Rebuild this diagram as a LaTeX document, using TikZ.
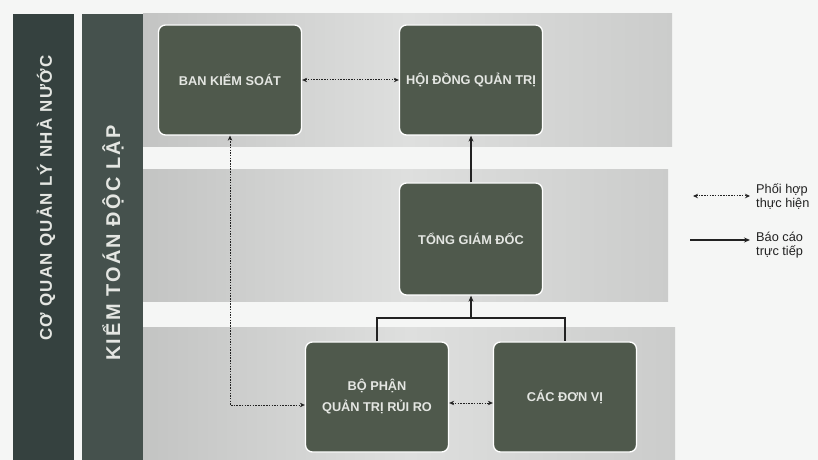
\documentclass[tikz,border=0pt]{standalone}
\usepackage{fontspec}
\setmainfont{Liberation Sans}
\newfontfamily\statefont[LetterSpace=8]{Liberation Sans}
\newfontfamily\auditfont[LetterSpace=11]{Liberation Sans}
\usetikzlibrary{arrows.meta}
\definecolor{Paper}{HTML}{F5F6F5}
\definecolor{Slate}{HTML}{35413F}
\definecolor{SlateLight}{HTML}{45514D}
\definecolor{BoxFill}{HTML}{4F594C}
\definecolor{BandDark}{HTML}{C3C4C3}
\definecolor{BandLight}{HTML}{DEDFDE}
\definecolor{Label}{HTML}{E4E6E2}
\definecolor{Ink}{HTML}{222222}
\tikzset{
  band/.style={left color=BandDark,right color=BandDark!70!BandLight,
    middle color=BandLight},
  orgbox/.style={draw=white,line width=1.3bp,fill=BoxFill,rounded corners=7bp,
    minimum width=143bp,minimum height=110bp,inner sep=0bp,align=center,
    text=Label,font=\bfseries\fontsize{12.8}{21}\selectfont},
  sidelabel/.style={rotate=90,text=Label,inner sep=0bp},
  legendtext/.style={anchor=west,align=left,inner sep=0bp,text=Ink,
    font=\fontsize{12.8}{14}\selectfont},
  coop/.style={draw=Ink,line width=1bp,dash pattern=on 1.5bp off 1.2bp,
    {Stealth[length=5bp,width=4.5bp]}-{Stealth[length=5bp,width=4.5bp]}},
  report/.style={draw=Ink,line width=1.4bp,-{Stealth[length=6bp,width=5bp]}},
  link/.style={draw=Ink,line width=1.4bp}
}

\begin{document}
\begin{tikzpicture}[x=1bp,y=-1bp]
  \path[use as bounding box] (0,0) rectangle (818,460);
  \fill[Paper] (0,0) rectangle (818,460);

  % oversight bars on the left
  \fill[Slate] (13,14) rectangle (74,460);
  \fill[SlateLight] (82,14) rectangle (143,460);
  \node[sidelabel,font=\statefont\bfseries\fontsize{17}{17}\selectfont]
    (state) at (46,198) {CƠ QUAN QUẢN LÝ NHÀ NƯỚC};
  \node[sidelabel,font=\auditfont\bfseries\fontsize{20}{20}\selectfont]
    (audit) at (113,243) {KIỂM TOÁN ĐỘC LẬP};

  % three levels
  \fill[band] (143,14) rectangle (672,147);
  \fill[band] (143,170) rectangle (668,302);
  \fill[band] (143,328) rectangle (675,460);

  \node[orgbox] (bks) at (230,80) {BAN KIỂM SOÁT};
  \node[orgbox] (hdqt) at (471,80) {HỘI ĐỒNG QUẢN TRỊ};
  \node[orgbox,minimum height=112bp] (tgd) at (471,239) {TỔNG GIÁM ĐỐC};
  \node[orgbox] (qtrr) at (377,397) {BỘ PHẬN\\QUẢN TRỊ RỦI RO};
  \node[orgbox] (dv) at (565,397) {CÁC ĐƠN VỊ};

  \draw[coop] (bks.east) -- (hdqt.west);
  \draw[report] (tgd.north) -- (hdqt.south);
  \draw[coop] (bks.south) |- ([yshift=-8bp]qtrr.west);
  \draw[coop] ([yshift=-6bp]qtrr.east) -- ([yshift=-6bp]dv.west);
  \coordinate (bus) at (471,318);
  \draw[link] (qtrr.north) |- (bus) -| (dv.north);
  \draw[report] (bus) -- (tgd.south);

  % legend
  \coordinate (coopA) at (693,196);
  \coordinate (coopB) at (750,196);
  \draw[coop] (coopA) -- (coopB);
  \node[legendtext] (coopText) at (756,197) {Phối hợp\\thực hiện};
  \coordinate (repA) at (690,240);
  \coordinate (repB) at (750,240);
  \draw[report] (repA) -- (repB);
  \node[legendtext] (repText) at (756,245) {Báo cáo\\trực tiếp};
\end{tikzpicture}
\end{document}
